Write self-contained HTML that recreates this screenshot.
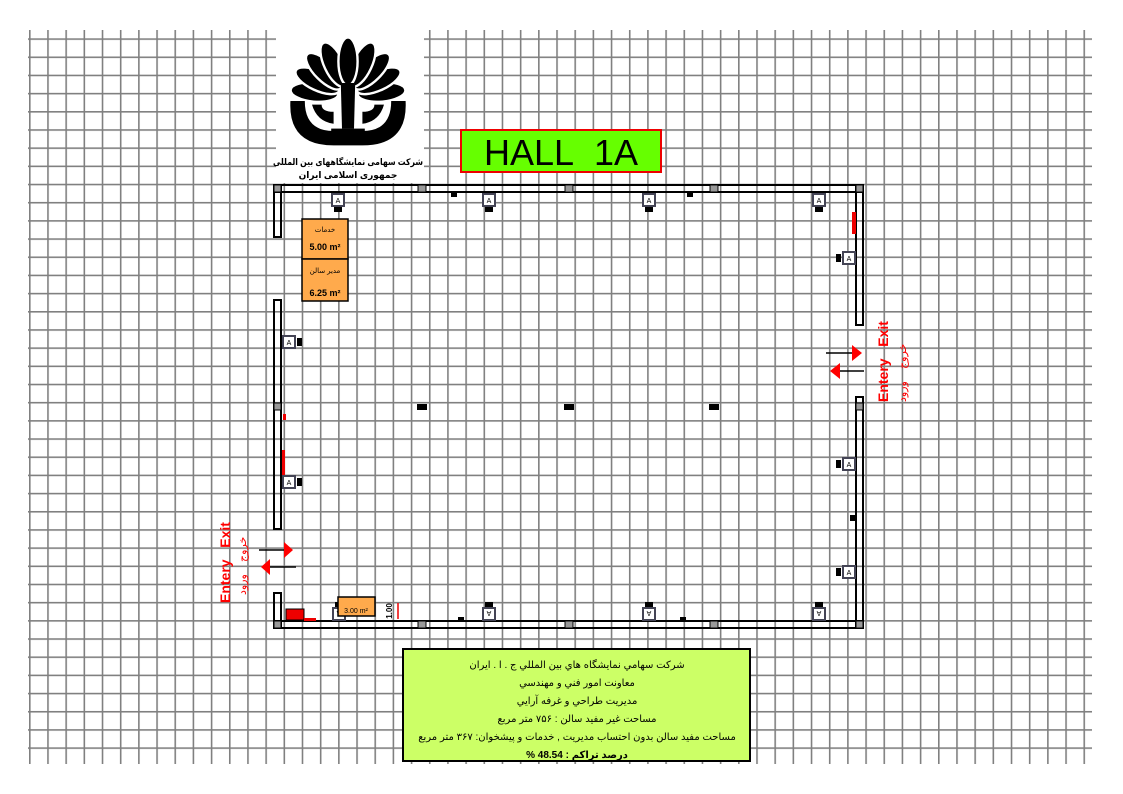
<!DOCTYPE html>
<html><head><meta charset="utf-8"><style>
html,body{margin:0;padding:0;background:#fff;}
svg{display:block;}
</style></head><body>
<svg width="1123" height="794" viewBox="0 0 1123 794" xmlns="http://www.w3.org/2000/svg">
<defs>
<pattern id="g" x="29" y="38.3" width="18.18" height="18.18" patternUnits="userSpaceOnUse">
<path d="M0.8 0V18.18M0 0.8H18.18" stroke="#808080" stroke-width="1.6" fill="none"/>
</pattern>
<g id="dev"><rect x="-6" y="-6" width="12" height="12" fill="#fff" stroke="#445" stroke-width="2"/><text x="0" y="3" font-size="7" text-anchor="middle" font-family="Liberation Sans">A</text><rect x="-4" y="7" width="8" height="5" fill="#000"/></g>
<g id="devR"><rect x="-6" y="-6" width="12" height="12" fill="#fff" stroke="#445" stroke-width="2"/><text x="0" y="3" font-size="7" text-anchor="middle" font-family="Liberation Sans">A</text><rect x="-13" y="-4" width="5" height="8" fill="#000"/></g>
<g id="devL"><rect x="-6" y="-6" width="12" height="12" fill="#fff" stroke="#445" stroke-width="2"/><text x="0" y="3" font-size="7" text-anchor="middle" font-family="Liberation Sans">A</text><rect x="8" y="-4" width="5" height="8" fill="#000"/></g>
<ellipse id="pet" cx="0" cy="-28" rx="8" ry="20" fill="#000" stroke="#fff" stroke-width="2"/>
</defs>
<rect x="28" y="30" width="1064" height="734" fill="url(#g)"/>
<rect x="276" y="28" width="148" height="155" fill="#fff"/>
<g transform="translate(348,95) scale(1.2)">
<use href="#pet" transform="rotate(-85)"/><use href="#pet" transform="rotate(-65)"/><use href="#pet" transform="rotate(-45)"/><use href="#pet" transform="rotate(-25)"/>
<use href="#pet" transform="rotate(85)"/><use href="#pet" transform="rotate(65)"/><use href="#pet" transform="rotate(45)"/><use href="#pet" transform="rotate(25)"/>
<use href="#pet"/>
<path d="M-48 5 Q-50 42 -12 42 L12 42 Q50 42 48 5 L36 5 Q36 30 12 30 L-12 30 Q-36 30 -36 5Z" fill="#000"/>
<path d="M-30 8 Q-26 22 -12 24 L-12 14 Q-22 14 -22 8Z" fill="#000"/>
<path d="M30 8 Q26 22 12 24 L12 14 Q22 14 22 8Z" fill="#000"/>
<path d="M-6 -10 L6 -10 L5 28 L-5 28Z" fill="#000"/>
<rect x="-14" y="28" width="28" height="8" fill="#000"/>
</g>
<text x="348" y="165" font-size="9" font-weight="bold" text-anchor="middle" font-family="'Liberation Sans','DejaVu Sans',sans-serif" textLength="150" lengthAdjust="spacingAndGlyphs">شرکت سهامی نمایشگاههای بین المللی</text>
<text x="348" y="178" font-size="9" font-weight="bold" text-anchor="middle" font-family="'Liberation Sans','DejaVu Sans',sans-serif">جمهوری اسلامی ایران</text>
<rect x="461" y="130" width="200" height="42" fill="#66ff00" stroke="#e00" stroke-width="2"/>
<text x="561" y="165" font-size="36" text-anchor="middle" font-family="'Liberation Sans',sans-serif">HALL&#160;&#160;1A</text>
<g fill="none" stroke="#000" stroke-width="2">
<rect x="274" y="185" width="589" height="7"/>
<rect x="274" y="621" width="589" height="7"/>
<rect x="274" y="185" width="7" height="52"/>
<rect x="274" y="300" width="7" height="229"/>
<rect x="274" y="593" width="7" height="35"/>
<rect x="856" y="185" width="7" height="140"/>
<rect x="856" y="397" width="7" height="231"/>
</g>
<g fill="#999" stroke="#000" stroke-width="1">
<rect x="274" y="185" width="7" height="7"/><rect x="418" y="185" width="8" height="7"/><rect x="565" y="185" width="8" height="7"/><rect x="710" y="185" width="8" height="7"/><rect x="856" y="185" width="7" height="7"/>
<rect x="274" y="621" width="7" height="7"/><rect x="418" y="621" width="8" height="7"/><rect x="565" y="621" width="8" height="7"/><rect x="710" y="621" width="8" height="7"/><rect x="856" y="621" width="7" height="7"/>
<rect x="274" y="403" width="7" height="7"/><rect x="856" y="403" width="7" height="7"/>
</g>
<g fill="#000"><rect x="417" y="404" width="10" height="6"/><rect x="564" y="404" width="10" height="6"/><rect x="709" y="404" width="10" height="6"/>
<rect x="451" y="193" width="6" height="4"/><rect x="687" y="193" width="6" height="4"/><rect x="458" y="617" width="6" height="4"/><rect x="680" y="617" width="6" height="4"/><rect x="850" y="515" width="5" height="6"/></g>
<g fill="#e00"><rect x="852" y="212" width="4" height="22"/><rect x="282" y="450" width="3" height="25"/><rect x="283" y="414" width="3" height="6"/><rect x="286" y="609" width="18" height="11" stroke="#000"/><rect x="304" y="618" width="12" height="3"/></g>
<use href="#dev" x="338" y="200"/><use href="#dev" x="489" y="200"/><use href="#dev" x="649" y="200"/><use href="#dev" x="819" y="200"/>
<use href="#devR" x="849" y="258"/><use href="#devR" x="849" y="464"/><use href="#devR" x="849" y="572"/>
<use href="#devL" x="289" y="342"/><use href="#devL" x="289" y="482"/>
<g transform="translate(0,1228) scale(1,-1)"><use href="#dev" x="339" y="614"/><use href="#dev" x="489" y="614"/><use href="#dev" x="649" y="614"/><use href="#dev" x="819" y="614"/></g>
<g font-family="'Liberation Sans','DejaVu Sans',sans-serif">
<rect x="302" y="219" width="46" height="40" fill="#ffaa4c" stroke="#000" stroke-width="1.5"/>
<rect x="302" y="259" width="46" height="42" fill="#ffaa4c" stroke="#000" stroke-width="1.5"/>
<text x="325" y="232" font-size="7" text-anchor="middle">خدمات</text>
<text x="325" y="250" font-size="9" font-weight="bold" text-anchor="middle">5.00 m²</text>
<text x="325" y="273" font-size="7" text-anchor="middle">مدیر سالن</text>
<text x="325" y="296" font-size="9" font-weight="bold" text-anchor="middle">6.25 m²</text>
<rect x="338" y="597" width="37" height="19" fill="#ffaa4c" stroke="#000" stroke-width="1.5"/>
<text x="356" y="613" font-size="7" text-anchor="middle">3.00 m²</text>
</g>
<line x1="398" y1="603" x2="398" y2="619" stroke="#e00" stroke-width="1.5"/>
<text x="392" y="611" font-size="8" font-weight="bold" font-family="Liberation Sans" transform="rotate(-90 392 611)" text-anchor="middle">1.00</text>
<line x1="826" y1="353" x2="852" y2="353" stroke="#000" stroke-width="1.5"/><path d="M852 345 L862 353 L852 361Z" fill="#f00"/>
<line x1="838" y1="371" x2="864" y2="371" stroke="#000" stroke-width="1.5"/><path d="M840 363 L830 371 L840 379Z" fill="#f00"/>
<g fill="#f00" font-family="'Liberation Sans','DejaVu Sans',sans-serif" font-size="14" font-weight="bold">
<text transform="translate(888,402) rotate(-90)">Entery&#160;&#160;&#160;Exit</text>
<text transform="translate(906,402) rotate(-90)" font-size="11" font-weight="normal">خروج&#160;&#160;&#160;&#160;ورود</text>
<text transform="translate(230,603) rotate(-90)">Entery&#160;&#160;&#160;Exit</text>
<text transform="translate(246,595) rotate(-90)" font-size="11" font-weight="normal">خروج&#160;&#160;&#160;&#160;ورود</text>
</g>
<line x1="259" y1="550" x2="284" y2="550" stroke="#000" stroke-width="1.5"/><path d="M284 542 L293 550 L284 558Z" fill="#f00"/>
<line x1="270" y1="567" x2="296" y2="567" stroke="#000" stroke-width="1.5"/><path d="M270 559 L261 567 L270 575Z" fill="#f00"/>
<rect x="403" y="649" width="347" height="112" fill="#ccff66" stroke="#000" stroke-width="2"/>
<g font-family="'Liberation Sans','DejaVu Sans',sans-serif" font-size="10" text-anchor="middle">
<text x="577" y="668">شرکت سهامي نمايشگاه هاي بين المللي ج . ا . ايران</text>
<text x="577" y="686">معاونت امور فني و مهندسي</text>
<text x="577" y="704">مديريت طراحي و غرفه آرايي</text>
<text x="577" y="722">مساحت غير مفيد سالن : ۷۵۶ متر مربع</text>
<text x="577" y="740">مساحت مفيد سالن بدون احتساب مديريت , خدمات و پيشخوان: ۳۶۷ متر مربع</text>
<text x="577" y="758" font-weight="bold">% درصد تراكم : 48.54</text>
</g>
</svg>
</body></html>
